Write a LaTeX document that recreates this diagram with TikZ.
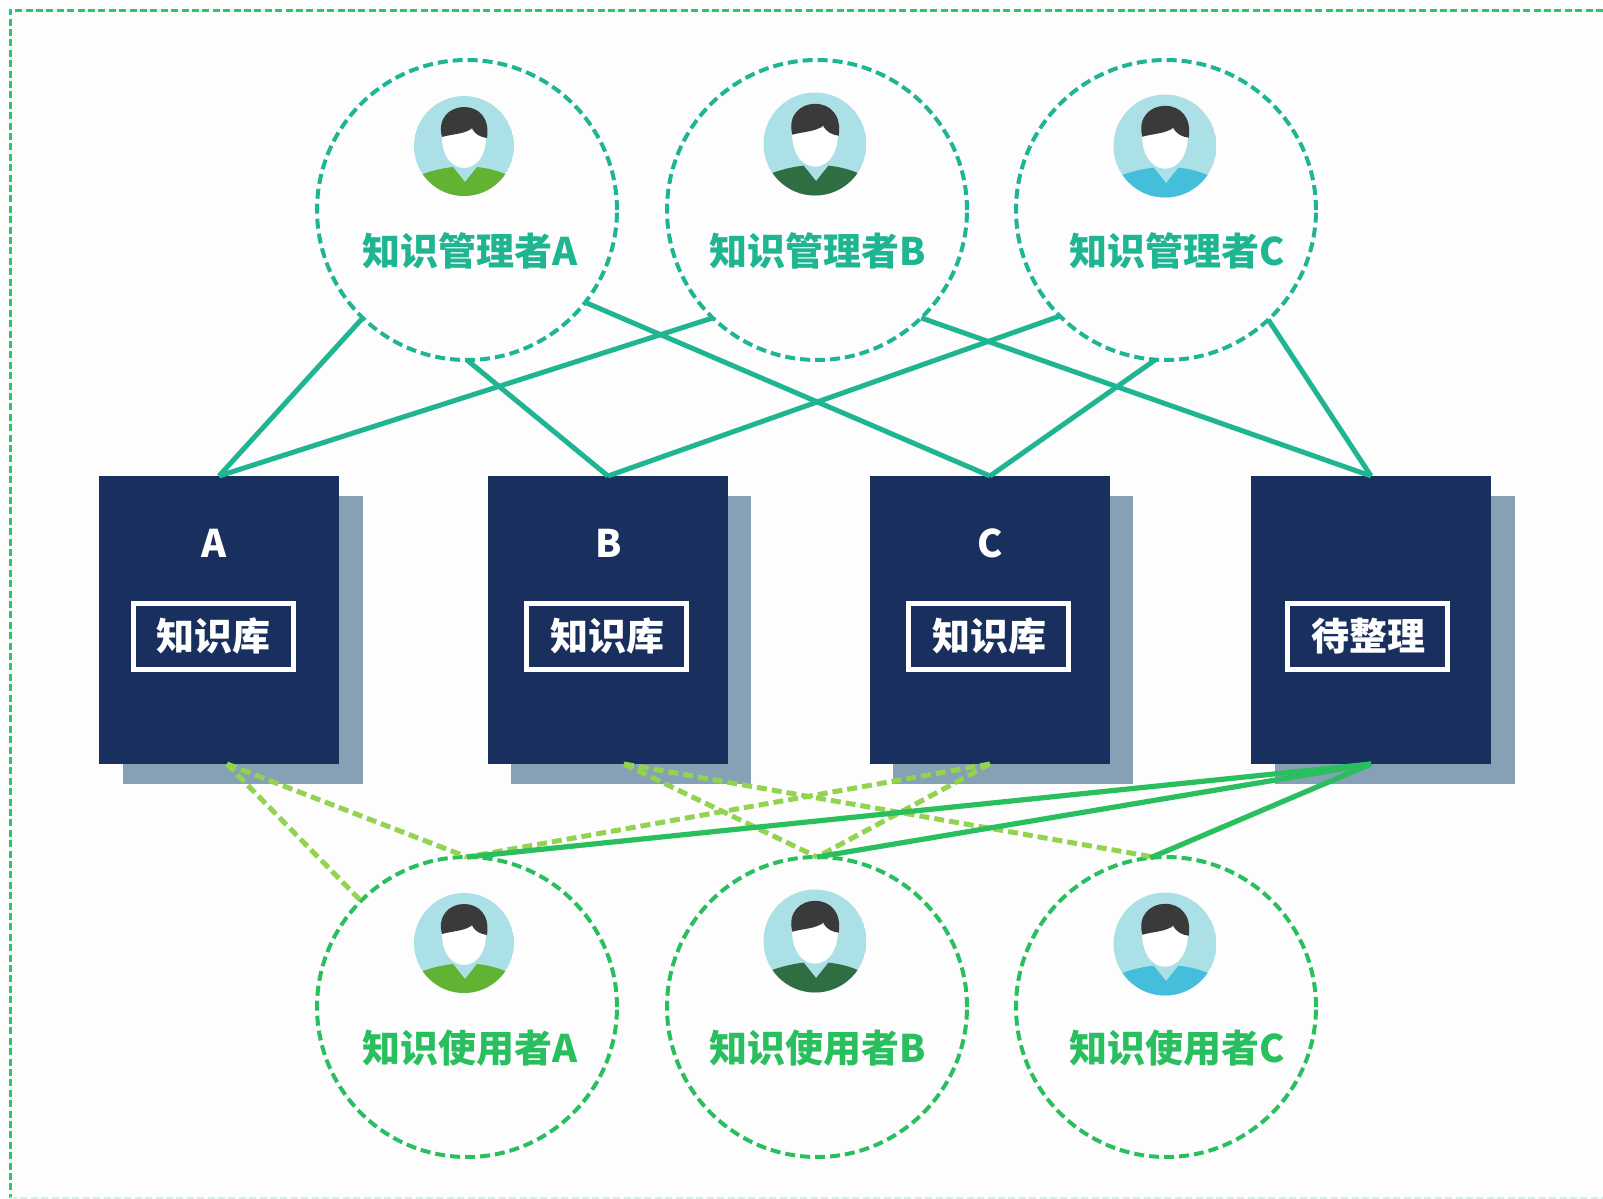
\documentclass[tikz,border=0pt]{standalone}
\usepackage{fontspec}
\setmainfont{Noto Sans CJK SC}
\usetikzlibrary{positioning}
\definecolor{pagebg}{HTML}{FDFDFD}
\definecolor{framegreen}{HTML}{2BC86A}
\definecolor{palegreen}{HTML}{D5EFE0}
\definecolor{mgrgreen}{HTML}{20B592}
\definecolor{usergreen}{HTML}{29BF5F}
\definecolor{linkgreen}{HTML}{92D34F}
\definecolor{boxnavy}{HTML}{19305E}
\definecolor{shadeblue}{HTML}{86A0B5}
\definecolor{skyface}{HTML}{ACE0E7}
\definecolor{hairgrey}{HTML}{3A3A3A}
\definecolor{shirtA}{HTML}{62B234}
\definecolor{shirtB}{HTML}{2F6E42}
\definecolor{shirtC}{HTML}{45BEDC}
\newcommand{\tagtext}[1]{\raisebox{2pt}{\hspace{1pt}#1}}
\tikzset{
  person/.style={circle, draw, line width=2pt, dash pattern=on 5pt off 2.5pt,
    minimum size=150pt, inner sep=0pt, outer sep=0pt},
  mgr/.style={person, draw=mgrgreen},
  usr/.style={person, draw=usergreen},
  mgrtext/.style={text=mgrgreen, font=\fontsize{19}{20}\bfseries},
  usrtext/.style={text=usergreen, font=\fontsize{19}{20}\bfseries},
  shade/.style={fill=shadeblue, minimum width=120pt, minimum height=144pt, inner sep=0pt, outer sep=0pt},
  kbox/.style={fill=boxnavy, minimum width=120pt, minimum height=144pt, inner sep=0pt, outer sep=0pt},
  kname/.style={text=white, font=\fontsize{19}{20}\bfseries},
  ktag/.style={draw=white, line width=2.5pt, text=white, minimum width=80pt, minimum height=33pt,
    inner sep=0pt, font=\fontsize{19}{20}\bfseries},
  mgrlink/.style={mgrgreen, line width=2.5pt},
  usrlink/.style={usergreen, line width=2.6pt},
  dashlink/.style={linkgreen, line width=2.5pt, dash pattern=on 5pt off 2.5pt},
  pics/avatar/.style={code={
    \begin{scope}
      \clip (0,0) circle (50);
      \fill[skyface] (0,0) circle (50);
      \fill[#1] (-50,50) -- (-50,31) -- (-41,28) .. controls (-30,24) and (-20,22) .. (-11,21)
        -- (1,36) -- (13,21) .. controls (22,22) and (32,24) .. (41,28) -- (50,31) -- (50,50) -- cycle;
    \end{scope}
    \fill[white] (-22,-16) -- (22,-16) .. controls (24,8) and (13,22) .. (0,22)
      .. controls (-13,22) and (-24,8) .. (-22,-16) -- cycle;
    \fill[hairgrey] (-22,-9) .. controls (-27,-28) and (-14,-39) .. (0,-39)
      .. controls (15,-39) and (26,-28) .. (23,-8)
      .. controls (17,-9) and (11,-11) .. (8,-18)
      .. controls (2,-12) and (-12,-12) .. (-22,-9) -- cycle;
  }}
}
\begin{document}
\begin{tikzpicture}[x=0.5pt, y=-0.5pt]
  \useasboundingbox (0,0) rectangle (1603,1199);
  \fill[pagebg] (0,0) rectangle (1603,1199);
  \draw[framegreen, line width=1.5pt, dash pattern=on 3.5pt off 1.7pt] (1603,10) -- (10,10) -- (10,1198);
  \draw[palegreen, line width=1pt, dash pattern=on 3.5pt off 1.7pt] (10,1198) -- (1603,1198);

  % shadows and boxes
  \node[shade] (shadeA) at (243,640) {};
  \node[shade] (shadeB) at (631,640) {};
  \node[shade] (shadeC) at (1013,640) {};
  \node[shade] (shadeD) at (1395,640) {};
  \node[kbox] (boxA) at (219,620) {};
  \node[kbox] (boxB) at (608,620) {};
  \node[kbox] (boxC) at (990,620) {};
  \node[kbox] (boxD) at (1371,620) {};
  \node[kname] (nameA) at (214,543) {A};
  \node[kname] (nameB) at (609,543) {B};
  \node[kname] (nameC) at (990,543) {C};
  \node[ktag] (tagA) at (213,636) {\tagtext{知识库}};
  \node[ktag] (tagB) at (606,636) {\tagtext{知识库}};
  \node[ktag] (tagC) at (988,636) {\tagtext{知识库}};
  \node[ktag] (tagD) at (1367,636) {\tagtext{待整理}};

  % people
  \node[mgr] (mgrA) at (467,210) {};
  \node[mgr] (mgrB) at (817,210) {};
  \node[mgr] (mgrC) at (1166,210) {};
  \node[usr] (usrA) at (467,1007) {};
  \node[usr] (usrB) at (817,1007) {};
  \node[usr] (usrC) at (1166,1007) {};
  \node[mgrtext] (mgrtextA) at (470,251) {知识管理者A};
  \node[mgrtext] (mgrtextB) at (818,251) {知识管理者B};
  \node[mgrtext] (mgrtextC) at (1177,251) {知识管理者C};
  \node[usrtext] (usrtextA) at (470,1048) {知识使用者A};
  \node[usrtext] (usrtextB) at (818,1048) {知识使用者B};
  \node[usrtext] (usrtextC) at (1177,1048) {知识使用者C};
  \pic at (464,146) {avatar=shirtA};
  \pic[scale=1.03] at (815,144) {avatar=shirtB};
  \pic[scale=1.03] at (1165,146) {avatar=shirtC};
  \pic at (464,943) {avatar=shirtA};
  \pic[scale=1.03] at (815,941) {avatar=shirtB};
  \pic[scale=1.03] at (1165,944) {avatar=shirtC};

  % managers to boxes
  \draw[mgrlink] (mgrA.226) -- (boxA.north);
  \draw[mgrlink] (mgrA.270) -- (boxB.north);
  \draw[mgrlink] (mgrA.322) -- (boxC.north);
  \draw[mgrlink] (mgrB.226) -- (boxA.north);
  \draw[mgrlink] (mgrB.314) -- (boxD.north);
  \draw[mgrlink] (mgrC.225) -- (boxB.north);
  \draw[mgrlink] (mgrC.266) -- (boxC.north);
  \draw[mgrlink] (mgrC.313) -- (boxD.north);

  % boxes to users
  \coordinate (lowA) at (227,764);
  \coordinate (lowB) at (624,764);
  \draw[dashlink] (lowA) -- (usrA.135);
  \draw[dashlink] (lowA) -- (usrA.90);
  \draw[dashlink] (lowB) -- (usrB.90);
  \draw[dashlink] (lowB) -- (usrC.94);
  \draw[dashlink] (boxC.south) -- (usrA.90);
  \draw[dashlink] (boxC.south) -- (usrB.90);
  \draw[usrlink] (boxD.south) -- (usrA.90);
  \draw[usrlink] (boxD.south) -- (usrB.90);
  \draw[usrlink] (boxD.south) -- (usrC.96);
\end{tikzpicture}
\end{document}
